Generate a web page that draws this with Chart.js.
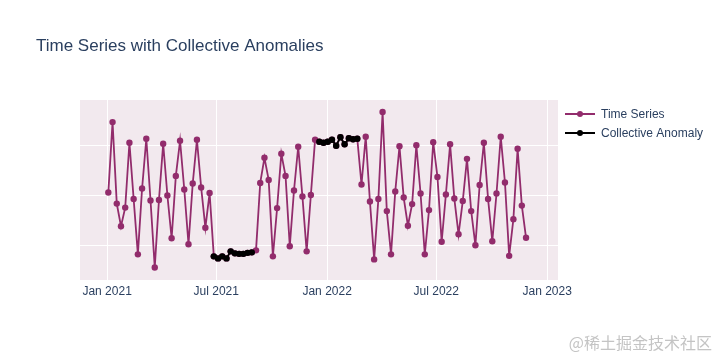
<!DOCTYPE html>
<html>
<head>
<meta charset="utf-8">
<script src="https://cdn.jsdelivr.net/npm/chart.js@4.4.1/dist/chart.umd.min.js"></script>
<style>
  html, body { margin: 0; padding: 0; background: #fff; }
  #wrap { position: relative; width: 720px; height: 360px; }
  #mark { position: absolute; right: 8px; bottom: 6px; font: 16px "Noto Sans CJK SC"; color: #c4c4c4; }
</style>
</head>
<body>
<div id="wrap">
  <canvas id="chart" width="720" height="360"></canvas>
  <div id="mark">@稀土掘金技术社区</div>
</div>
<script>
// weekly series, first week ending 2021-01-03
const startDate = '2021-01-03';
const nWeeks = 100;

const values = [
   0.06,  1.46, -0.16, -0.61, -0.24,  1.05, -0.07, -1.17,  0.14,  1.13,
  -0.10, -1.43, -0.09,  1.03,  0.00, -0.85,  0.39,  1.09,  0.12, -0.97,
   0.24,  1.11,  0.16, -0.64,  0.05, -1.21, -1.25, -1.21, -1.25, -1.11,
  -1.15, -1.16, -1.16, -1.14, -1.13, -1.09,  0.25,  0.75,  0.31, -1.21,
  -0.25,  0.83,  0.39, -1.01,  0.10,  0.97, -0.02, -1.11,  0.01,  1.11,
   1.07,  1.05,  1.07,  1.11,  0.99,  1.16,  1.02,  1.14,  1.12,  1.13,
   0.22,  1.17, -0.12, -1.27, -0.07,  1.66, -0.31, -1.17,  0.08,  0.98,
  -0.04, -0.60, -0.17,  1.00,  0.04, -1.17, -0.29,  1.06,  0.37, -0.92,
   0.02,  1.02, -0.06, -0.77, -0.11,  0.73, -0.31, -0.99,  0.21,  1.05,
  -0.07, -0.91,  0.04,  1.17,  0.26, -1.20, -0.47,  0.93, -0.20, -0.84
];

// index ranges (inclusive) flagged as collective anomalies
const anomalyBlocks = [[25, 34], [50, 59]];

const xTickDates  = ['2021-01-01', '2021-07-01', '2022-01-01', '2022-07-01', '2023-01-01'];
const xTickLabels = ['Jan 2021', 'Jul 2021', 'Jan 2022', 'Jul 2022', 'Jan 2023'];
const yGrid = [-1, 0, 1];

const DAY = 86400000;
const origin = Date.UTC(2021, 0, 1);
const toDays = s => (Date.parse(s + 'T00:00:00Z') - origin) / DAY;

const firstDay = toDays(startDate);
const seriesPts = values.map((v, i) => ({ x: firstDay + 7 * i, y: v }));
const anomalyPts = seriesPts.map((p, i) => {
  const inBlock = anomalyBlocks.some(b => i >= b[0] && i <= b[1]);
  return { x: p.x, y: inBlock ? p.y : null };
});
const xTicks = xTickDates.map(toDays);

const PURPLE = '#922c6c';
const TXT = '#2a3f5f';
const FONT = '"Liberation Sans", Arial, sans-serif';

const frame = {
  id: 'frame',
  beforeDraw(chart) {
    const { ctx, chartArea: a } = chart;
    ctx.save();
    ctx.fillStyle = '#f2e9ee';
    ctx.fillRect(a.left, a.top, a.right - a.left, a.bottom - a.top);
    ctx.restore();
  },
  afterDraw(chart) {
    const ctx = chart.ctx;
    ctx.save();
    // title
    ctx.fillStyle = TXT;
    ctx.font = '17px ' + FONT;
    ctx.textBaseline = 'alphabetic';
    ctx.fillText('Time Series with Collective Anomalies', 36, 51);
    // legend
    const items = [['Time Series', PURPLE], ['Collective Anomaly', '#000']];
    ctx.font = '12px ' + FONT;
    ctx.textBaseline = 'middle';
    items.forEach((it, k) => {
      const y = 114 + k * 19;
      ctx.strokeStyle = it[1];
      ctx.lineWidth = 2;
      ctx.beginPath(); ctx.moveTo(565, y); ctx.lineTo(595, y); ctx.stroke();
      ctx.fillStyle = it[1];
      ctx.beginPath(); ctx.arc(580, y, 3, 0, Math.PI * 2); ctx.fill();
      ctx.fillStyle = TXT;
      ctx.fillText(it[0], 601, y + 1);
    });
    ctx.restore();
  }
};

new Chart(document.getElementById('chart'), {
  type: 'line',
  data: {
    datasets: [
      {
        label: 'Time Series',
        data: seriesPts,
        borderColor: PURPLE,
        backgroundColor: PURPLE,
        borderWidth: 1.8,
        pointRadius: 3.2,
        pointBorderWidth: 0,
        tension: 0,
        order: 2
      },
      {
        label: 'Collective Anomaly',
        data: anomalyPts,
        borderColor: '#000',
        backgroundColor: '#000',
        borderWidth: 1.8,
        pointRadius: 3.2,
        pointBorderWidth: 0,
        spanGaps: false,
        tension: 0,
        order: 1
      }
    ]
  },
  options: {
    responsive: false,
    animation: false,
    layout: { padding: { left: 80, top: 100, right: 162, bottom: 55 } },
    plugins: { legend: { display: false }, tooltip: { enabled: false }, title: { display: false } },
    scales: {
      x: {
        type: 'linear',
        min: -45,
        max: 748,
        afterBuildTicks: s => { s.ticks = xTicks.map(v => ({ value: v })); },
        afterFit: s => { s.height = 25; },
        grid: { color: '#ffffff', lineWidth: 1, drawTicks: false },
        border: { display: false },
        ticks: {
          padding: 4,
          color: TXT,
          font: { family: FONT, size: 12 },
          maxRotation: 0,
          callback: v => xTickLabels[xTicks.indexOf(v)]
        }
      },
      y: {
        min: -1.68,
        max: 1.90,
        afterBuildTicks: s => { s.ticks = yGrid.map(v => ({ value: v })); },
        afterFit: s => { s.width = 0; },
        grid: { color: '#ffffff', lineWidth: 1, drawTicks: false },
        border: { display: false },
        ticks: { display: false }
      }
    }
  },
  plugins: [frame]
});
</script>
</body>
</html>
